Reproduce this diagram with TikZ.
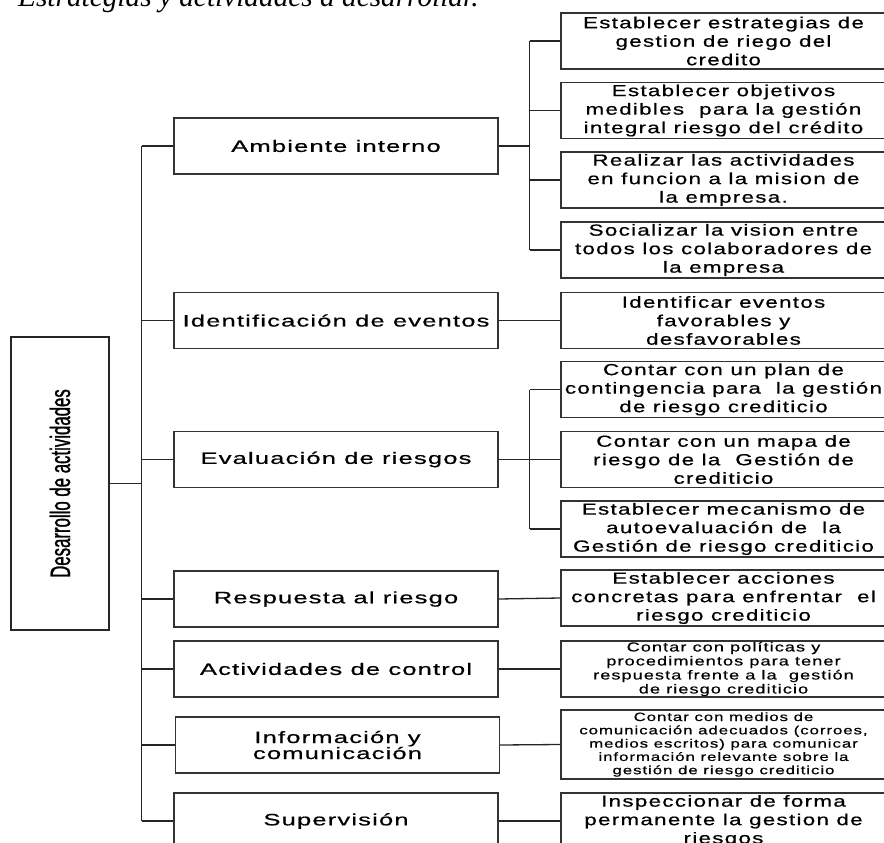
\documentclass[tikz,border=0pt]{standalone}
\usepackage{fontspec}
\usepackage{tikz}
\usetikzlibrary{calc}
\newfontfamily\boxfont[FakeStretch=1.4,LetterSpace=8,FakeBold=0.6]{Liberation Sans}
\newfontfamily\compfont[FakeStretch=1.55,LetterSpace=7,FakeBold=0.6]{Liberation Sans}
\newfontfamily\narrowfont[FakeStretch=0.6,FakeBold=1]{Liberation Sans}
\newfontfamily\titlefont{Liberation Serif}

\begin{document}
\begin{tikzpicture}[
  x=1pt, y=-1pt,
  lbox/.style={draw=black!80, line width=1.2pt, minimum width=324pt, minimum height=56pt, inner sep=0pt, align=center, font=\compfont\fontsize{16.5}{16}\selectfont},
  rbox/.style={draw=black!80, line width=1.2pt, minimum width=325pt, minimum height=56pt, inner sep=0pt, align=center, font=\boxfont\fontsize{16}{18.5}\selectfont},
  rootbox/.style={draw=black!85, line width=1.2pt, minimum width=98pt, minimum height=293pt, inner sep=0pt, font=\narrowfont\fontsize{28}{28}\selectfont},
  wire/.style={draw=black!85, line width=1.3pt},
]
\def\xl{336}  % left column
\def\xr{723.5} % right column
\useasboundingbox (0,0) rectangle (884,843);
% title, cut at the top
\node[anchor=base west, inner sep=0pt, font=\titlefont\itshape\fontsize{29.3}{30}\selectfont] (title) at (18,7) {Estrategias y actividades a desarrollar.};
% root
\node[rootbox] (root) at (60,483.5) {\rotatebox{90}{Desarrollo de actividades}};
% components
\node[lbox] (amb) at (\xl,146) {Ambiente interno};
\node[lbox] (ide) at (\xl,320.5) {Identificación de eventos};
\node[lbox] (eva) at (\xl,459.5) {Evaluación de riesgos};
\node[lbox] (res) at (\xl,599) {Respuesta al riesgo};
\node[lbox] (act) at (\xl,669) {Actividades de control};
\node[lbox] (inf) at (\xl+1.5,745) {Información y\\comunicación};
\node[lbox] (sup) at (\xl,821) {Supervisión};
% activities
\node[rbox] (amb1) at (\xr,41) {Establecer estrategias de\\gestion de riego del\\credito};
\node[rbox] (amb2) at (\xr,110.5) {Establecer objetivos\\medibles~ para la gestión\\integral riesgo del crédito};
\node[rbox] (amb3) at (\xr,180) {Realizar las actividades\\en funcion a la mision de\\la empresa.};
\node[rbox] (amb4) at (\xr,250) {Socializar la vision entre\\todos los colaboradores de\\la empresa};
\node[rbox] (ide1) at (\xr,320.5) {Identificar eventos\\favorables y\\desfavorables};
\node[rbox] (eva1) at (\xr,389.5) {Contar con un plan de\\contingencia para~ la gestión\\de riesgo crediticio};
\node[rbox] (eva2) at (\xr,459.5) {Contar con un mapa de\\riesgo de la~ Gestión de\\crediticio};
\node[rbox] (eva3) at (\xr,529) {Establecer mecanismo de\\autoevaluación de~ la\\Gestión de riesgo crediticio};
\node[rbox] (res1) at (\xr,598) {Establecer acciones\\concretas para enfrentar~ el\\riesgo crediticio};
\node[rbox, font=\boxfont\fontsize{13}{14}\selectfont] (act1) at (\xr,669) {Contar con políticas y\\procedimientos para tener\\respuesta frente a la~ gestión\\de riesgo crediticio};
\node[rbox, minimum height=69pt, font=\boxfont\fontsize{12}{13.3}\selectfont] (inf1) at (\xr,744.5) {Contar con medios de\\comunicación adecuados (corroes,\\medios escritos) para comunicar\\información relevante sobre la\\gestión de riesgo crediticio};
\node[rbox] (sup1) at (\xr,821) {Inspeccionar de forma\\permanente la gestion de\\riesgos};
% trunk from the root
\coordinate (trunk) at ($(root.east)!0.5!(root.east -| amb.west)$);
\draw[wire] (root.east) -- (trunk);
\draw[wire] (trunk |- amb.west) -- (trunk |- sup.west);
\foreach \n in {amb,ide,eva,res,act,inf,sup}
  \draw[wire] (trunk |- \n.west) -- (\n.west);
% buses to the activities
\coordinate (busA) at ($(amb.east)!0.5!(amb.east -| amb1.west)$);
\draw[wire] (amb.east) -- (busA);
\draw[wire] (busA |- amb1.west) -- (busA |- amb4.west);
\foreach \n in {amb1,amb2,amb3,amb4}
  \draw[wire] (busA |- \n.west) -- (\n.west);
\coordinate (busE) at ($(eva.east)!0.5!(eva.east -| eva1.west)$);
\draw[wire] (eva.east) -- (busE);
\draw[wire] (busE |- eva1.west) -- (busE |- eva3.west);
\foreach \n in {eva1,eva2,eva3}
  \draw[wire] (busE |- \n.west) -- (\n.west);
% single activities
\foreach \a/\b in {ide/ide1,res/res1,act/act1,inf/inf1,sup/sup1}
  \draw[wire] (\a.east) -- (\b.west);
\end{tikzpicture}
\end{document}
